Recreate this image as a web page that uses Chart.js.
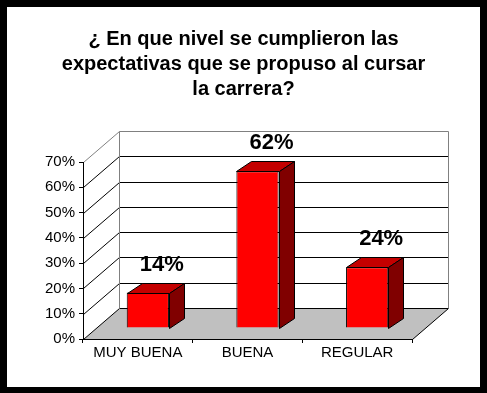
<!DOCTYPE html>
<html>
<head>
<meta charset="utf-8">
<script src="https://cdn.jsdelivr.net/npm/chart.js@4.4.1/dist/chart.umd.min.js"></script>
<style>
  html, body { margin: 0; padding: 0; background: #000; }
  #marco { position: absolute; left: 7px; top: 7px; width: 473px; height: 380px; background: #fff; }
</style>
</head>
<body>
<div id="marco"><canvas id="grafico" width="473" height="380"></canvas></div>
<script>
// datos del grafico
const categorias = ["MUY BUENA", "BUENA", "REGULAR"];
const valores = [14, 62, 24];
const etiquetas = ["14%", "62%", "24%"];
const ticksY = [0, 10, 20, 30, 40, 50, 60, 70];
const titulo = [
  "¿ En que nivel se cumplieron las",
  "expectativas que se propuso al cursar",
  "la carrera?"
];

// profundidad del efecto 3D
const PROF_X = 36, PROF_Y = -31;      // pared del fondo
const BARRA_X = 15, BARRA_Y = -10;    // grosor de cada barra
const DESP_X = 10, DESP_Y = -11;      // barras colocadas dentro del suelo

Chart.defaults.font.family = "'Liberation Sans', Arial, sans-serif";
Chart.defaults.color = "#000";

function linea(ctx, puntos, color) {
  ctx.beginPath();
  ctx.moveTo(puntos[0][0], puntos[0][1]);
  for (let i = 1; i < puntos.length; i++) ctx.lineTo(puntos[i][0], puntos[i][1]);
  ctx.strokeStyle = color;
  ctx.stroke();
}

// paredes y suelo (antes de los ejes)
const fondo3d = {
  id: "fondo3d",
  beforeDraw(chart) {
    const { ctx, chartArea: a, scales: { y } } = chart;
    const izq = Math.round(a.left) + 0.5, der = Math.round(a.right) + 0.5;
    const arriba = Math.round(y.getPixelForValue(ticksY[ticksY.length - 1])) + 0.5 + PROF_Y;
    const abajo = Math.round(y.getPixelForValue(0)) + 0.5 + PROF_Y;
    ctx.save();
    ctx.lineWidth = 1;

    // suelo gris
    ctx.beginPath();
    ctx.moveTo(izq, abajo - PROF_Y);
    ctx.lineTo(der, abajo - PROF_Y);
    ctx.lineTo(der + PROF_X, abajo);
    ctx.lineTo(izq + PROF_X, abajo);
    ctx.closePath();
    ctx.fillStyle = "#c0c0c0";
    ctx.fill();
    linea(ctx, [[der, abajo - PROF_Y], [der + PROF_X, abajo]], "#000");

    // lineas de division
    ticksY.forEach((v, i) => {
      const py = Math.round(y.getPixelForValue(v)) + 0.5;
      const color = i === ticksY.length - 1 ? "#808080" : "#000";
      linea(ctx, [[izq, py], [izq + PROF_X, py + PROF_Y], [der + PROF_X, py + PROF_Y]], color);
    });

    // bordes de la pared
    linea(ctx, [[izq + PROF_X, arriba], [izq + PROF_X, abajo]], "#808080");
    linea(ctx, [[der + PROF_X, arriba], [der + PROF_X, abajo]], "#808080");
    ctx.restore();
  },
  beforeDatasetsDraw(chart) {
    chart.ctx.save();
    chart.ctx.translate(DESP_X, DESP_Y);
  },
  afterDatasetsDraw(chart) {
    const ctx = chart.ctx;
    const barras = chart.getDatasetMeta(0).data;
    ctx.lineWidth = 1;
    ctx.strokeStyle = "#000";
    barras.forEach(b => {
      const { x, y, base, width } = b.getProps(["x", "y", "base", "width"], true);
      const l = Math.round(x - width / 2) + 0.5, r = Math.round(x + width / 2) + 0.5;
      const t = Math.round(y) + 0.5, bb = Math.round(base) + 0.5;
      // cara superior
      ctx.beginPath();
      ctx.moveTo(l, t);
      ctx.lineTo(r, t);
      ctx.lineTo(r + BARRA_X, t + BARRA_Y);
      ctx.lineTo(l + BARRA_X, t + BARRA_Y);
      ctx.closePath();
      ctx.fillStyle = "#c40000";
      ctx.fill();
      ctx.stroke();
      // cara lateral
      ctx.beginPath();
      ctx.moveTo(r, t);
      ctx.lineTo(r + BARRA_X, t + BARRA_Y);
      ctx.lineTo(r + BARRA_X, bb + BARRA_Y);
      ctx.lineTo(r, bb);
      ctx.closePath();
      ctx.fillStyle = "#800000";
      ctx.fill();
      ctx.stroke();
    });
    ctx.restore();

    // etiquetas de valor
    ctx.save();
    ctx.font = "bold 22px 'Liberation Sans', Arial, sans-serif";
    ctx.fillStyle = "#000";
    ctx.textAlign = "center";
    ctx.textBaseline = "middle";
    barras.forEach((b, i) => {
      ctx.fillText(etiquetas[i], b.x + DESP_X + 14, b.y + DESP_Y - 28);
    });
    ctx.restore();
  }
};

new Chart(document.getElementById("grafico"), {
  type: "bar",
  data: {
    labels: categorias,
    datasets: [{
      data: valores,
      backgroundColor: "#ff0000",
      borderColor: "#000",
      borderWidth: 1,
      barPercentage: 0.385,
      categoryPercentage: 1,
      clip: false
    }]
  },
  options: {
    responsive: false,
    animation: false,
    layout: { padding: 0 },
    plugins: {
      legend: { display: false },
      tooltip: { enabled: false },
      title: {
        display: true,
        text: titulo,
        color: "#000",
        font: { size: 20, weight: "bold", lineHeight: 1.25 },
        padding: { top: 19.5, bottom: 60.5 }
      }
    },
    scales: {
      x: {
        grid: { offset: true, drawOnChartArea: false, tickLength: 4, color: "#000" },
        border: { display: true, color: "#000" },
        ticks: { font: { size: 15 }, color: "#000", padding: 1, maxRotation: 0 },
        afterFit: s => { s.height = 48; }
      },
      y: {
        min: 0,
        max: 70,
        afterBuildTicks: s => { s.ticks = ticksY.map(v => ({ value: v })); },
        grid: { drawOnChartArea: false, tickLength: 4, color: "#000" },
        border: { display: true, color: "#000" },
        ticks: { font: { size: 15 }, color: "#000", padding: 4, callback: v => v + "%" },
        afterFit: s => { s.width = 76; }
      },
      // espacio libre a la derecha (para la profundidad)
      derecha: {
        position: "right",
        grid: { display: false },
        border: { display: false },
        ticks: { display: false },
        afterFit: s => { s.width = 68; }
      }
    }
  },
  plugins: [fondo3d]
});
</script>
</body>
</html>
